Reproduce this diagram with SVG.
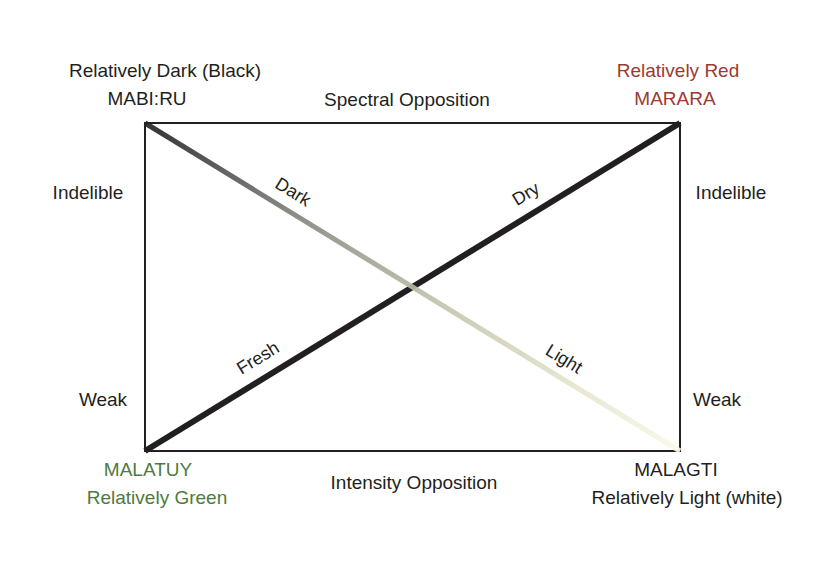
<svg xmlns="http://www.w3.org/2000/svg" width="829" height="563" viewBox="0 0 829 563">
<defs>
<linearGradient id="grad" gradientUnits="userSpaceOnUse" x1="145" y1="123" x2="680" y2="451">
<stop offset="0" stop-color="#222222"/>
<stop offset="0.3" stop-color="#8a8a84"/>
<stop offset="0.55" stop-color="#c4c4ae"/>
<stop offset="0.8" stop-color="#e6e5cc"/>
<stop offset="1" stop-color="#fbf9ea"/>
</linearGradient>
</defs>
<style>
text { font-family: "Liberation Sans", Arial, sans-serif; font-size: 19px; fill: #231f20; text-anchor: middle; }
.red { fill: #9b3a30; }
.green { fill: #4e7a3e; }
.lbl { font-size: 18px; }
</style>
<rect width="829" height="563" fill="#ffffff"/>
<g id="frame">
<rect x="145" y="123" width="535" height="328" fill="none" stroke="#231f20" stroke-width="2"/>
</g>
<g id="connectors">
<line id="dry-fresh" x1="145" y1="451" x2="680" y2="123" stroke="#231f20" stroke-width="6"/>
<line id="dark-light" x1="145" y1="123" x2="680" y2="451" stroke="url(#grad)" stroke-width="5" opacity="0.92"/>
<text class="lbl" transform="translate(290,197) rotate(31.5)">Dark</text>
<text class="lbl" transform="translate(529,199) rotate(-31.5)">Dry</text>
<text class="lbl" transform="translate(261,363) rotate(-31.5)">Fresh</text>
<text class="lbl" transform="translate(561,364) rotate(31.5)">Light</text>
</g>
<g id="top-left">
<text x="165" y="77">Relatively Dark (Black)</text>
<text x="147" y="105">MABI:RU</text>
</g>
<g id="top-right">
<text class="red" x="678" y="77">Relatively Red</text>
<text class="red" x="675" y="105">MARARA</text>
</g>
<g id="bottom-left">
<text class="green" x="148" y="476">MALATUY</text>
<text class="green" x="157" y="504">Relatively Green</text>
</g>
<g id="bottom-right">
<text x="676" y="476">MALAGTI</text>
<text x="687" y="504">Relatively Light (white)</text>
</g>
<g id="axes">
<text x="407" y="106">Spectral Opposition</text>
<text x="414" y="489">Intensity Opposition</text>
<text x="88" y="199">Indelible</text>
<text x="731" y="199">Indelible</text>
<text x="103" y="406">Weak</text>
<text x="717" y="406">Weak</text>
</g>
</svg>
